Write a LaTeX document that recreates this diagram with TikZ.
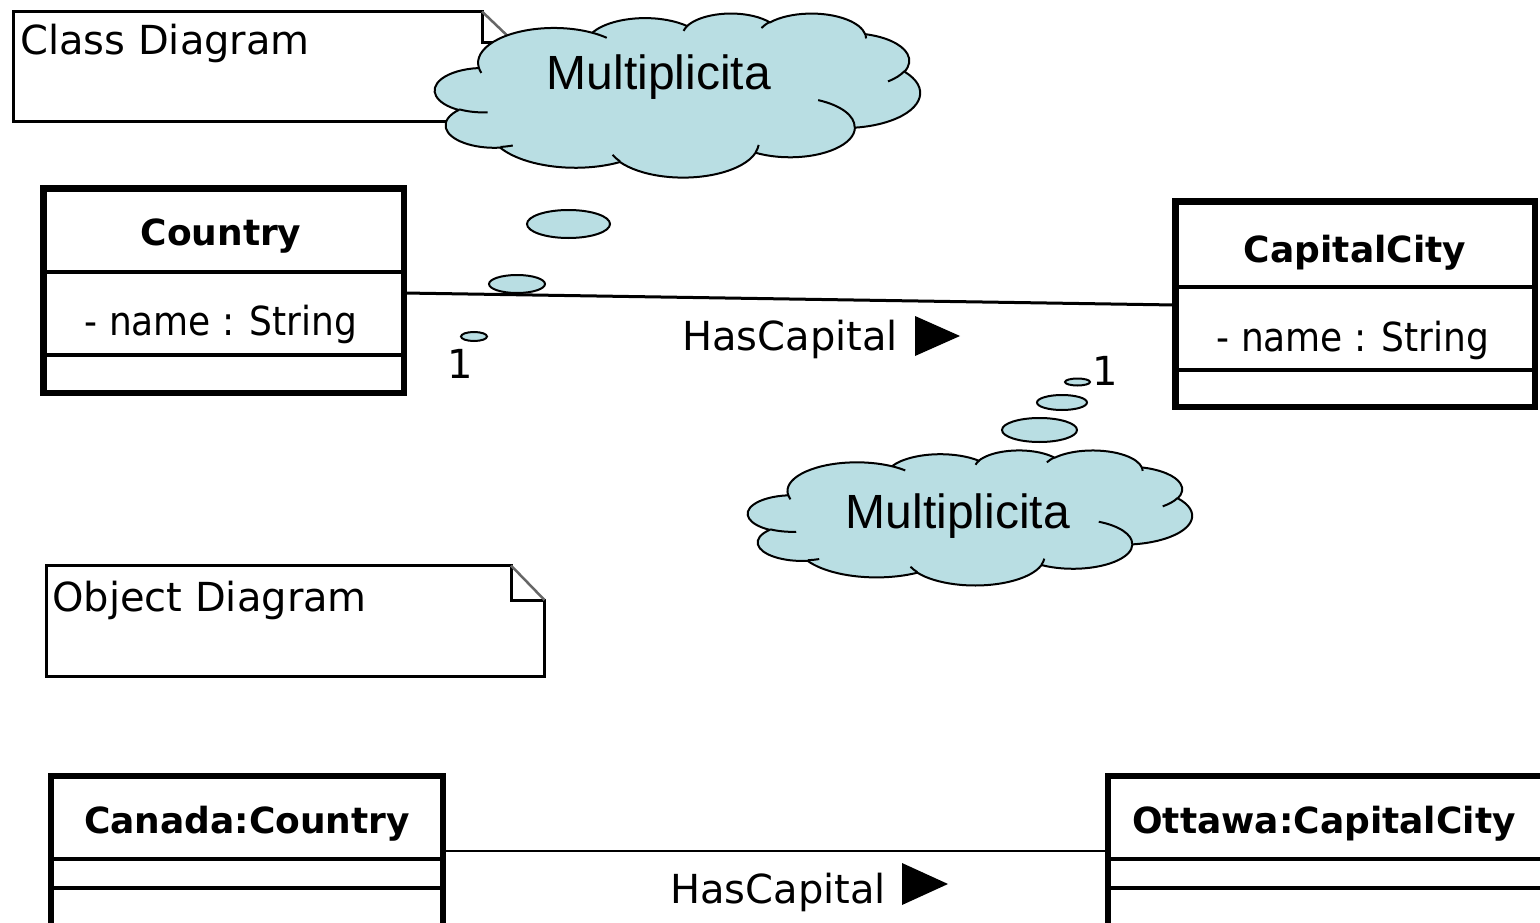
\documentclass[tikz,border=0pt]{standalone}
\usepackage{fontspec}
\setmainfont{DejaVu Sans}
\newfontfamily\calloutfont{Liberation Sans}
\newfontfamily\attrfont[FakeStretch=0.9]{DejaVu Sans}
\usetikzlibrary{calc}

\definecolor{cloudfill}{RGB}{185,222,227}

% One elliptic arc of the callout cloud: x radius, y radius,
% start angle and sweep, both given as visual angles.
\newcommand\cloudarc[4]{%
  \pgfextra{%
    \pgfmathparse{atan2((#1)*sin(#3),(#2)*cos(#3))}\xdef\cloudta{\pgfmathresult}%
    \pgfmathparse{atan2((#1)*sin((#3)+(#4)),(#2)*cos((#3)+(#4)))}\xdef\cloudtb{\pgfmathresult}%
    \pgfmathparse{mod((\cloudtb)-(\cloudta)+720,360)}\xdef\clouddt{\pgfmathresult}%
  }
  arc[x radius=#1, y radius=#2, start angle=\cloudta, delta angle=\clouddt]}

% Cloud outline in a 432 x 432 box
\newcommand\cloudoutline{(39.00,143.70)
  \cloudarc{67.53}{91.90}{-190.4875}{123.7805}
  \cloudarc{53.33}{72.67}{-144.1024}{89.9452}
  \cloudarc{43.65}{59.45}{-145.8079}{99.7230}
  \cloudarc{48.57}{65.95}{-130.9861}{117.2417}
  \cloudarc{53.33}{72.73}{-78.7089}{109.0269}
  \cloudarc{67.75}{92.20}{-46.2673}{130.2690}
  \cloudarc{57.85}{78.67}{0.6250}{114.0333}
  \cloudarc{67.52}{92.15}{22.4516}{115.1726}
  \cloudarc{77.20}{105.43}{66.2426}{75.7110}
  \cloudarc{43.60}{59.18}{-274.9421}{146.7356}
  \cloudarc{43.45}{59.45}{-246.8285}{152.5189}
  -- cycle}

% Inner strokes of the cloud
\newcommand\cloudinner{%
  (46.93,261.77) \cloudarc{43.45}{59.45}{86.7420}{26.4295}
  (69.28,348.99) \cloudarc{43.60}{59.18}{73.6105}{11.4475}
  (164.78,390.90) \cloudarc{67.52}{92.15}{137.6242}{14.0811}
  (288.27,347.51) \cloudarc{67.52}{92.15}{6.4533}{15.9984}
  (341.29,229.54) \cloudarc{57.85}{78.67}{-70.2924}{70.9174}
  (417.98,153.54) \cloudarc{53.33}{72.73}{30.3180}{27.7515}
  (383.24,54.26) \cloudarc{48.57}{65.95}{-13.7443}{14.8589}
  (290.78,39.52) \cloudarc{48.57}{65.95}{-149.1815}{18.1954}
  (221.41,47.20) \cloudarc{43.65}{59.45}{-163.4943}{17.6864}
  (140.00,51.92) \cloudarc{67.53}{91.90}{-66.7070}{12.3194}
  (41.27,157.89) \cloudarc{67.53}{91.90}{157.6544}{11.8582}}

\tikzset{
  umlbox/.style={draw=black, line width=6.5pt, inner sep=0pt, outer sep=0pt, rectangle},
  divider/.style={line width=3.5pt},
  classname/.style={inner sep=0pt, anchor=base, font=\fontsize{36}{43}\selectfont\bfseries},
  plain/.style={inner sep=0pt, anchor=base, font=\fontsize{40}{48}\selectfont},
  attr/.style={inner sep=0pt, anchor=base, font=\attrfont\fontsize{40}{48}\selectfont},
  notebox/.style={draw=black, line width=3pt, line join=miter},
  notefold/.style={draw=black!60, line width=2.5pt},
  assoc/.style={line width=3pt},
  linkline/.style={line width=2.5pt},
  dirmark/.style={fill=black},
  cloudbody/.style={fill=cloudfill, draw=black, line width=2pt, line join=round},
  cloudstroke/.style={draw=black, line width=2pt},
  cloudtext/.style={inner sep=0pt, anchor=base, font=\calloutfont\fontsize{48}{56}\selectfont},
  bubble/.style={fill=cloudfill, draw=black, line width=2pt},
}

\begin{document}
\begin{tikzpicture}[x=1pt, y=-1pt]
\useasboundingbox (0,0) rectangle (1540,923);
\clip (0,0) rectangle (1540,923);
\fill[white] (0,0) rectangle (1540,923);

% ---- note: class diagram
\draw[notebox] (482,11.5) -- (13.5,11.5) -- (13.5,121.5) -- (515,121.5) -- (515,43) -- (482,43) -- cycle;
\draw[notefold] (482,11.5) -- (515,43);
\node[plain, anchor=base west] (classnote) at (20,55) {Class Diagram};

% ---- class Country
\node[umlbox, minimum width=360.5pt, minimum height=204.5pt] (country) at (223.5,290.5) {};
\draw[divider] (country.west |- 0,272) -- (country.east |- 0,272);
\draw[divider] (country.west |- 0,355) -- (country.east |- 0,355);
\node[classname] (countryname) at (221,245) {Country};
\node[attr] (countryattr) at (221,335) {- name : String};

% ---- class CapitalCity
\node[umlbox, minimum width=359.5pt, minimum height=205.5pt] (capital) at (1355,304) {};
\draw[divider] (capital.west |- 0,287) -- (capital.east |- 0,287);
\draw[divider] (capital.west |- 0,370) -- (capital.east |- 0,370);
\node[classname] (capitalname) at (1355,262) {CapitalCity};
\node[attr] (capitalattr) at (1353,351) {- name : String};

% ---- association between the classes
\draw[assoc] ([yshift=-2.5pt]country.east) -- ([yshift=-1pt]capital.west);
\node[plain] (assoclabel) at (790,350) {HasCapital};
\fill[dirmark] (915,316) -- (960,336) -- (915,356) -- cycle;
\node[plain] (multleft) at (460,378) {1};
\node[plain] (multright) at (1105,385) {1};

% ---- callout clouds
\begin{scope}[shift={(435,13)}, x=1.12269pt, y=-0.37963pt]
  \path[cloudbody] \cloudoutline;
  \path[cloudstroke] \cloudinner;
\end{scope}
\node[cloudtext] (cloudtop) at (659,90) {Multiplicita};
\draw[bubble] (568.5,224) ellipse [x radius=41.5, y radius=14];
\draw[bubble] (517,284) ellipse [x radius=28, y radius=9];
\draw[bubble] (474,336.5) ellipse [x radius=13, y radius=4.5];

\begin{scope}[shift={(748,450)}, x=1.02778pt, y=-0.3125pt]
  \path[cloudbody] \cloudoutline;
  \path[cloudstroke] \cloudinner;
\end{scope}
\node[cloudtext] (cloudbottom) at (958,528) {Multiplicita};
\draw[bubble] (1039.5,430) ellipse [x radius=37.5, y radius=12];
\draw[bubble] (1062,402.5) ellipse [x radius=25, y radius=7.5];
\draw[bubble] (1077.5,382) ellipse [x radius=12.5, y radius=3.5];

% ---- note: object diagram
\draw[notebox] (511,565.5) -- (46.5,565.5) -- (46.5,676.5) -- (544.5,676.5) -- (544.5,600) -- (511,600) -- cycle;
\draw[notefold] (511,565.5) -- (544.5,600);
\node[plain, anchor=base west] (objectnote) at (52,611) {Object Diagram};

% ---- object Canada
\node[umlbox, minimum width=392pt, minimum height=199pt] (canada) at (247,875.5) {};
\draw[divider] (canada.west |- 0,859) -- (canada.east |- 0,859);
\draw[divider] (canada.west |- 0,888) -- (canada.east |- 0,888);
\node[classname] (canadaname) at (247,833) {Canada:Country};

% ---- object Ottawa
\node[umlbox, minimum width=438pt, minimum height=199pt] (ottawa) at (1327,875.5) {};
\draw[divider] (ottawa.west |- 0,859) -- (ottawa.east |- 0,859);
\draw[divider] (ottawa.west |- 0,888) -- (ottawa.east |- 0,888);
\node[classname] (ottawaname) at (1324,833) {Ottawa:CapitalCity};

% ---- link between the objects
\draw[linkline] ([yshift=24.5pt]canada.east) -- ([yshift=24.5pt]ottawa.west);
\node[plain] (linklabel) at (778,903) {HasCapital};
\fill[dirmark] (902,863) -- (948,884) -- (902,905) -- cycle;
\end{tikzpicture}
\end{document}
